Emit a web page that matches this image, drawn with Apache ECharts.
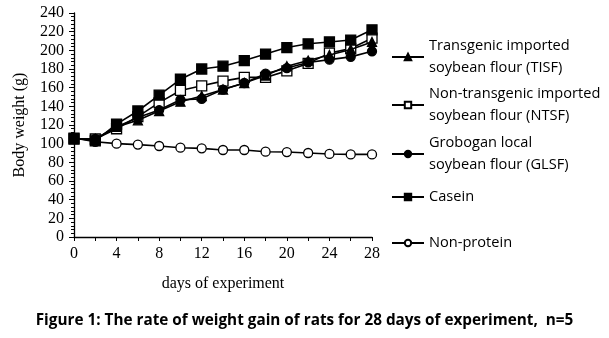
<!DOCTYPE html>
<html>
<head>
<meta charset="utf-8">
<script src="https://cdn.jsdelivr.net/npm/echarts@6/dist/echarts.min.js"></script>
<style>html,body{margin:0;padding:0;background:#fff;}#c{width:609px;height:338px;}</style>
</head>
<body>
<div id="c"></div>
<script>
var days = [0, 2, 4, 6, 8, 10, 12, 14, 16, 18, 20, 22, 24, 26, 28];
var tisf = [105, 105, 118, 125, 135, 145, 151, 158, 165, 173, 183, 189, 195, 201, 209];
var ntsf = [105, 105, 116, 129, 144, 157, 162, 167, 171, 171, 178, 186, 197, 202, 213];
var glsf = [105, 105, 118, 128, 136, 147, 148, 158, 165, 175, 181, 187, 190, 193, 199];
var casein = [106, 103, 121, 135, 152, 169, 180, 183, 189, 196, 203, 207, 209, 211, 222];
var nonProtein = [106, 102, 100, 99, 97.5, 95.7, 95, 93.2, 93.2, 91.4, 91, 90, 89, 88.5, 88.5];
var names = ['Transgenic imported\nsoybean flour (TISF)', 'Non-transgenic imported\nsoybean flour (NTSF)', 'Grobogan local\nsoybean flour (GLSF)', 'Casein', 'Non-protein'];
var xTicks = [0, 4, 8, 12, 16, 20, 24, 28];
var yTicks = [0, 20, 40, 60, 80, 100, 120, 140, 160, 180, 200, 220, 240];

function pairs(arr) { return days.map(function (d, i) { return [d, arr[i]]; }); }
function mkSeries(name, arr, symbol, size, fill, z) {
  return {
    name: name, type: 'line', data: pairs(arr), symbol: symbol, symbolSize: size,
    lineStyle: { color: '#000', width: 1.6 },
    itemStyle: { color: fill, borderColor: '#000', borderWidth: 1.3 },
    z: z, animation: false
  };
}
var legendFont = { fontFamily: 'Open Sans', fontSize: 14.6, color: '#000', lineHeight: 22 };
var legendTops = [30, 78, 127, 181, 227];
var legends = names.map(function (n, i) {
  return {
    data: [n], left: 386, top: legendTops[i], orient: 'vertical',
    itemWidth: 32, itemHeight: 8, itemGap: 0, textStyle: legendFont,
    selectedMode: false
  };
});

var chart = echarts.init(document.getElementById('c'), null, { renderer: 'canvas' });
chart.setOption({
  backgroundColor: '#fff',
  animation: false,
  title: {
    text: 'Figure 1: The rate of weight gain of rats for 28 days of experiment,  n=5',
    left: 'center', top: 308,
    textStyle: { fontFamily: 'Open Sans', fontWeight: 'bold', fontSize: 15.3, color: '#000' }
  },
  legend: legends,
  grid: { left: 74, top: 13, right: 237, bottom: 101 },
  xAxis: {
    type: 'value', min: 0, max: 28, interval: 2,
    name: 'days of experiment', nameLocation: 'middle', nameGap: 39,
    nameTextStyle: { fontFamily: 'Liberation Serif', fontSize: 16, color: '#000' },
    axisLine: { lineStyle: { color: '#000', width: 1.3 } },
    axisTick: { show: true, length: 4, lineStyle: { color: '#000' } },
    axisLabel: {
      margin: 9, fontFamily: 'Liberation Serif', fontSize: 16, color: '#000',
      formatter: function (v) { return xTicks.indexOf(v) >= 0 ? String(v) : ''; }
    },
    splitLine: { show: false }
  },
  yAxis: {
    type: 'value', min: 0, max: 240, interval: 20,
    name: 'Body weight (g)', nameLocation: 'middle', nameGap: 46, nameRotate: 90,
    nameTextStyle: { fontFamily: 'Liberation Serif', fontSize: 16, color: '#000' },
    axisLine: { show: true, lineStyle: { color: '#000', width: 1.3 } },
    axisTick: { show: true, length: 5, lineStyle: { color: '#000' } },
    minorTick: { show: true, splitNumber: 5, length: 3, lineStyle: { color: '#000' } },
    axisLabel: {
      margin: 10, fontFamily: 'Liberation Serif', fontSize: 16, color: '#000',
      formatter: function (v) { return yTicks.indexOf(v) >= 0 ? String(v) : ''; }
    },
    splitLine: { show: false }
  },
  series: [
    mkSeries(names[0], tisf, 'triangle', 9, '#000', 3),
    mkSeries(names[1], ntsf, 'rect', 10, '#fff', 2),
    mkSeries(names[2], glsf, 'circle', 9, '#000', 4),
    mkSeries(names[3], casein, 'rect', 10, '#000', 5),
    mkSeries(names[4], nonProtein, 'circle', 9, '#fff', 1)
  ]
});
</script>
</body>
</html>
